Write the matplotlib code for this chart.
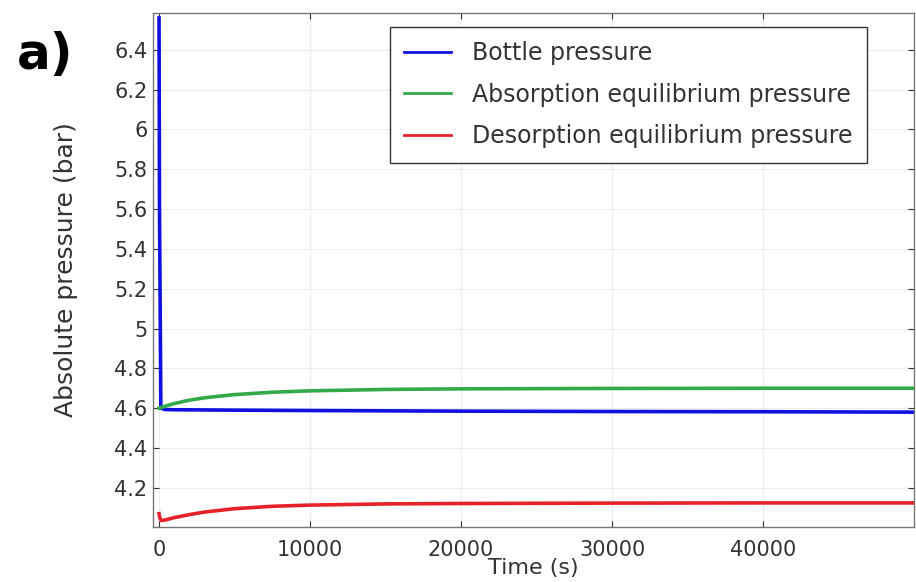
import matplotlib.pyplot as plt
import numpy as np

plt.rcParams['font.family'] = ['DejaVu Sans']

# 数据
t_bottle = [0, 30, 120, 400, 1000, 5000, 10000, 20000, 30000, 40000, 50000]
p_bottle = [6.56, 5.6, 4.6, 4.593, 4.592, 4.59, 4.588, 4.585, 4.583, 4.582, 4.58]

t_abs = [0, 500, 1000, 2000, 3000, 5000, 7500, 10000, 15000, 20000, 30000, 40000, 50000]
p_abs = [4.60, 4.612, 4.623, 4.64, 4.652, 4.668, 4.680, 4.687, 4.694, 4.697, 4.699, 4.70, 4.70]

t_des = [0, 50, 150, 500, 1000, 2000, 3000, 5000, 7500, 10000, 15000, 20000, 30000, 40000, 50000]
p_des = [4.07, 4.05, 4.035, 4.04, 4.05, 4.065, 4.078, 4.095, 4.107, 4.113, 4.119, 4.121, 4.123, 4.124, 4.124]

labels = ['Bottle pressure', 'Absorption equilibrium pressure',
          'Desorption equilibrium pressure']
colors = ['#1010e0', '#33aa4a', '#e52228']

x_ticks = [0, 10000, 20000, 30000, 40000]
y_ticks = [4.2, 4.4, 4.6, 4.8, 5.0, 5.2, 5.4, 5.6, 5.8, 6.0, 6.2, 6.4]
y_ticklabels = ['4.2', '4.4', '4.6', '4.8', '5', '5.2', '5.4', '5.6', '5.8', '6', '6.2', '6.4']

fig = plt.figure(figsize=(9.16, 5.82), dpi=100)
ax = fig.add_axes([153 / 916, 1 - 527 / 582, (914 - 153) / 916, (527 - 13) / 582])

for t, p, c, lab in zip([t_bottle, t_abs, t_des], [p_bottle, p_abs, p_des], colors, labels):
    ax.plot(t, p, color=c, lw=2.6, label=lab, solid_joinstyle='round')

ax.set_xlim(-400, 50000)
ax.set_ylim(4.003, 6.585)
ax.set_xticks(x_ticks)
ax.set_xticklabels([str(v) for v in x_ticks])
ax.set_yticks(y_ticks)
ax.set_yticklabels(y_ticklabels)

ax.tick_params(direction='in', top=True, right=True, labelsize=15,
               colors='#333333', length=4, width=0.8, pad=4)
ax.tick_params(axis='x', pad=9)
ax.grid(True, color='#ececec', lw=0.8)
for s in ax.spines.values():
    s.set_color('#777777')
    s.set_linewidth(1.0)

ax.set_xlabel('Time (s)', fontsize=16, color='#333333', labelpad=-1)
ax.set_ylabel('Absolute pressure (bar)', fontsize=18, color='#333333', labelpad=26)

leg = ax.legend(loc='upper right', bbox_to_anchor=(0.938, 0.973), fontsize=17,
                fancybox=False, edgecolor='#333333', framealpha=1,
                handlelength=2.0, handletextpad=0.9, borderpad=0.6,
                labelspacing=0.75, borderaxespad=0)
leg.get_frame().set_linewidth(1.0)
for line in leg.get_lines():
    line.set_linewidth(2.0)
for txt in leg.get_texts():
    txt.set_color('#333333')

fig.text(17 / 916, 1 - 55 / 582, 'a)', fontsize=36, fontweight='bold',
         ha='left', va='center', color='black')

plt.savefig('out.png', dpi=100)
